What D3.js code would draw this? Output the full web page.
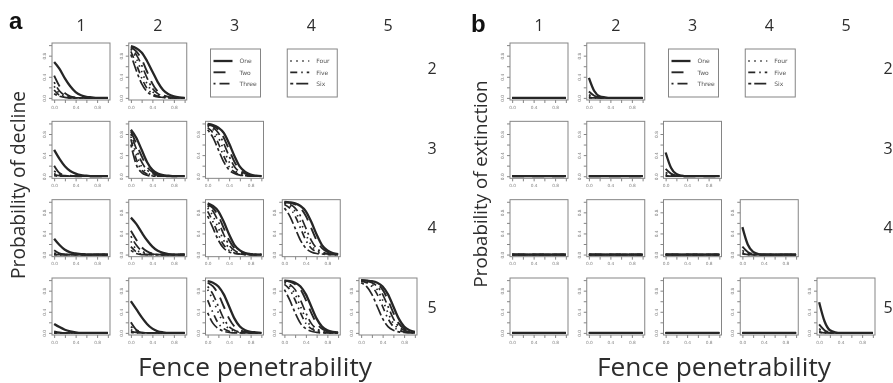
<!DOCTYPE html>
<html>
<head>
<meta charset="utf-8">
<script src="https://cdn.jsdelivr.net/npm/d3@7"></script>
<style>
  html, body { margin: 0; padding: 0; background: #fff; }
  svg { display: block; will-change: transform; }
</style>
</head>
<body>
<svg id="chart" width="893" height="383"></svg>
<script>
// x positions the curves were read at (fence penetrability)
const xGrid = [0, 0.1, 0.2, 0.3, 0.4, 0.5, 0.6, 0.7, 0.8, 0.9, 1.0];
const seriesNames = ['One', 'Two', 'Three', 'Four', 'Five', 'Six'];
const columnLabels = [1, 2, 3, 4, 5];
const rowLabels = [2, 3, 4, 5];
const tickValues = [0, 0.2, 0.4, 0.6, 0.8, 1.0];
const labelledTicks = [0, 0.4, 0.8];

// panel a : probability of decline, one array per series (One..Six)
const declineR2C1 = [
  [0.68, 0.55, 0.37, 0.22, 0.11, 0.05, 0.02, 0.01, 0, 0, 0],
  [0.42, 0.22, 0.09, 0.03, 0.01, 0, 0, 0, 0, 0, 0],
  [0.30, 0.13, 0.05, 0.02, 0, 0, 0, 0, 0, 0, 0],
  [0.22, 0.08, 0.03, 0.01, 0, 0, 0, 0, 0, 0, 0],
  [0.15, 0.05, 0.02, 0, 0, 0, 0, 0, 0, 0, 0],
  [0.08, 0.03, 0.01, 0, 0, 0, 0, 0, 0, 0, 0]
];
const declineR2C2 = [
  [0.98, 0.94, 0.86, 0.70, 0.50, 0.30, 0.15, 0.07, 0.03, 0.01, 0],
  [0.96, 0.88, 0.73, 0.50, 0.27, 0.12, 0.05, 0.02, 0.01, 0, 0],
  [0.94, 0.82, 0.62, 0.38, 0.18, 0.08, 0.03, 0.01, 0, 0, 0],
  [0.92, 0.75, 0.50, 0.27, 0.12, 0.05, 0.02, 0.01, 0, 0, 0],
  [0.88, 0.64, 0.38, 0.18, 0.08, 0.03, 0.01, 0, 0, 0, 0],
  [0.82, 0.52, 0.27, 0.12, 0.05, 0.02, 0.01, 0, 0, 0, 0]
];
const declineR3C1 = [
  [0.50, 0.33, 0.19, 0.10, 0.05, 0.02, 0.01, 0, 0, 0, 0],
  [0.20, 0.06, 0.02, 0.01, 0, 0, 0, 0, 0, 0, 0],
  [0.10, 0.03, 0.01, 0, 0, 0, 0, 0, 0, 0, 0],
  [0.05, 0.01, 0, 0, 0, 0, 0, 0, 0, 0, 0],
  [0.03, 0.01, 0, 0, 0, 0, 0, 0, 0, 0, 0],
  [0.01, 0, 0, 0, 0, 0, 0, 0, 0, 0, 0]
];
const declineR3C2 = [
  [0.88, 0.73, 0.50, 0.27, 0.12, 0.05, 0.02, 0.01, 0, 0, 0],
  [0.85, 0.62, 0.38, 0.18, 0.08, 0.03, 0.01, 0, 0, 0, 0],
  [0.80, 0.52, 0.27, 0.12, 0.05, 0.02, 0.01, 0, 0, 0, 0],
  [0.75, 0.42, 0.18, 0.07, 0.02, 0.01, 0, 0, 0, 0, 0],
  [0.70, 0.32, 0.12, 0.04, 0.01, 0, 0, 0, 0, 0, 0],
  [0.60, 0.22, 0.07, 0.02, 0, 0, 0, 0, 0, 0, 0]
];
const declineR3C3 = [
  [0.99, 0.97, 0.92, 0.82, 0.62, 0.38, 0.18, 0.08, 0.03, 0.01, 0],
  [0.98, 0.95, 0.88, 0.73, 0.50, 0.27, 0.12, 0.05, 0.02, 0.01, 0],
  [0.97, 0.92, 0.82, 0.62, 0.38, 0.18, 0.08, 0.03, 0.01, 0, 0],
  [0.95, 0.88, 0.73, 0.50, 0.27, 0.12, 0.05, 0.02, 0.01, 0, 0],
  [0.92, 0.82, 0.62, 0.38, 0.18, 0.08, 0.03, 0.01, 0, 0, 0],
  [0.88, 0.73, 0.50, 0.27, 0.12, 0.05, 0.02, 0.01, 0, 0, 0]
];
const declineR4C1 = [
  [0.30, 0.18, 0.09, 0.04, 0.02, 0.01, 0, 0, 0, 0, 0],
  [0.08, 0.02, 0, 0, 0, 0, 0, 0, 0, 0, 0],
  [0.03, 0.01, 0, 0, 0, 0, 0, 0, 0, 0, 0],
  [0.01, 0, 0, 0, 0, 0, 0, 0, 0, 0, 0],
  [0, 0, 0, 0, 0, 0, 0, 0, 0, 0, 0],
  [0, 0, 0, 0, 0, 0, 0, 0, 0, 0, 0]
];
const declineR4C2 = [
  [0.70, 0.58, 0.42, 0.27, 0.15, 0.07, 0.03, 0.01, 0, 0, 0],
  [0.45, 0.28, 0.14, 0.06, 0.02, 0.01, 0, 0, 0, 0, 0],
  [0.35, 0.18, 0.07, 0.02, 0.01, 0, 0, 0, 0, 0, 0],
  [0.25, 0.10, 0.03, 0.01, 0, 0, 0, 0, 0, 0, 0],
  [0.15, 0.05, 0.01, 0, 0, 0, 0, 0, 0, 0, 0],
  [0.08, 0.02, 0, 0, 0, 0, 0, 0, 0, 0, 0]
];
const declineR4C3 = [
  [0.97, 0.92, 0.82, 0.62, 0.38, 0.18, 0.08, 0.03, 0.01, 0, 0],
  [0.95, 0.88, 0.73, 0.50, 0.27, 0.12, 0.05, 0.02, 0.01, 0, 0],
  [0.92, 0.82, 0.62, 0.38, 0.18, 0.08, 0.03, 0.01, 0, 0, 0],
  [0.88, 0.73, 0.50, 0.27, 0.12, 0.05, 0.02, 0.01, 0, 0, 0],
  [0.82, 0.62, 0.38, 0.18, 0.08, 0.03, 0.01, 0, 0, 0, 0],
  [0.73, 0.50, 0.27, 0.12, 0.05, 0.02, 0.01, 0, 0, 0, 0]
];
const declineR4C4 = [
  [1.00, 0.99, 0.97, 0.92, 0.82, 0.62, 0.38, 0.18, 0.08, 0.03, 0.01],
  [0.99, 0.98, 0.95, 0.88, 0.73, 0.50, 0.27, 0.12, 0.05, 0.02, 0.01],
  [0.98, 0.95, 0.88, 0.73, 0.50, 0.27, 0.12, 0.05, 0.02, 0.01, 0],
  [0.97, 0.92, 0.82, 0.62, 0.38, 0.18, 0.08, 0.03, 0.01, 0, 0],
  [0.95, 0.88, 0.73, 0.50, 0.27, 0.12, 0.05, 0.02, 0.01, 0, 0],
  [0.88, 0.73, 0.50, 0.27, 0.12, 0.05, 0.02, 0.01, 0, 0, 0]
];
const declineR5C1 = [
  [0.17, 0.11, 0.06, 0.03, 0.01, 0, 0, 0, 0, 0, 0],
  [0.03, 0.01, 0, 0, 0, 0, 0, 0, 0, 0, 0],
  [0.01, 0, 0, 0, 0, 0, 0, 0, 0, 0, 0],
  [0, 0, 0, 0, 0, 0, 0, 0, 0, 0, 0],
  [0, 0, 0, 0, 0, 0, 0, 0, 0, 0, 0],
  [0, 0, 0, 0, 0, 0, 0, 0, 0, 0, 0]
];
const declineR5C2 = [
  [0.60, 0.45, 0.30, 0.17, 0.08, 0.03, 0.01, 0, 0, 0, 0],
  [0.20, 0.06, 0.02, 0, 0, 0, 0, 0, 0, 0, 0],
  [0.12, 0.04, 0.01, 0, 0, 0, 0, 0, 0, 0, 0],
  [0.06, 0.02, 0, 0, 0, 0, 0, 0, 0, 0, 0],
  [0.03, 0.01, 0, 0, 0, 0, 0, 0, 0, 0, 0],
  [0.01, 0, 0, 0, 0, 0, 0, 0, 0, 0, 0]
];
const declineR5C3 = [
  [0.98, 0.95, 0.88, 0.73, 0.50, 0.27, 0.12, 0.05, 0.02, 0.01, 0],
  [0.95, 0.88, 0.73, 0.50, 0.27, 0.12, 0.05, 0.02, 0.01, 0, 0],
  [0.88, 0.73, 0.50, 0.27, 0.12, 0.05, 0.02, 0.01, 0, 0, 0],
  [0.82, 0.62, 0.38, 0.18, 0.08, 0.03, 0.01, 0, 0, 0, 0],
  [0.62, 0.38, 0.18, 0.08, 0.03, 0.01, 0, 0, 0, 0, 0],
  [0.38, 0.18, 0.08, 0.03, 0.01, 0, 0, 0, 0, 0, 0]
];
const declineR5C4 = [
  [0.99, 0.98, 0.95, 0.88, 0.73, 0.50, 0.27, 0.12, 0.05, 0.02, 0.01],
  [0.99, 0.97, 0.92, 0.82, 0.62, 0.38, 0.18, 0.08, 0.03, 0.01, 0],
  [0.97, 0.92, 0.82, 0.62, 0.38, 0.18, 0.08, 0.03, 0.01, 0, 0],
  [0.95, 0.88, 0.73, 0.50, 0.27, 0.12, 0.05, 0.02, 0.01, 0, 0],
  [0.92, 0.82, 0.62, 0.38, 0.18, 0.08, 0.03, 0.01, 0, 0, 0],
  [0.82, 0.62, 0.38, 0.18, 0.08, 0.03, 0.01, 0, 0, 0, 0]
];
const declineR5C5 = [
  [1.00, 0.99, 0.98, 0.95, 0.88, 0.73, 0.50, 0.27, 0.12, 0.05, 0.02],
  [1.00, 0.99, 0.97, 0.92, 0.82, 0.62, 0.38, 0.18, 0.08, 0.03, 0.01],
  [0.99, 0.98, 0.95, 0.88, 0.73, 0.50, 0.27, 0.12, 0.05, 0.02, 0.01],
  [0.99, 0.97, 0.92, 0.82, 0.62, 0.38, 0.18, 0.08, 0.03, 0.01, 0],
  [0.98, 0.95, 0.88, 0.73, 0.50, 0.27, 0.12, 0.05, 0.02, 0.01, 0],
  [0.95, 0.88, 0.73, 0.50, 0.27, 0.12, 0.05, 0.02, 0.01, 0, 0]
];

// panel b : probability of extinction
const extinctionFlat = [
  [0, 0, 0, 0, 0, 0, 0, 0, 0, 0, 0],
  [0, 0, 0, 0, 0, 0, 0, 0, 0, 0, 0],
  [0, 0, 0, 0, 0, 0, 0, 0, 0, 0, 0],
  [0, 0, 0, 0, 0, 0, 0, 0, 0, 0, 0],
  [0, 0, 0, 0, 0, 0, 0, 0, 0, 0, 0],
  [0, 0, 0, 0, 0, 0, 0, 0, 0, 0, 0]
];
const extinctionR2C2 = [
  [0.38, 0.13, 0.03, 0.01, 0, 0, 0, 0, 0, 0, 0],
  [0.12, 0.04, 0.01, 0, 0, 0, 0, 0, 0, 0, 0],
  [0.06, 0.02, 0, 0, 0, 0, 0, 0, 0, 0, 0],
  [0.03, 0.01, 0, 0, 0, 0, 0, 0, 0, 0, 0],
  [0.01, 0, 0, 0, 0, 0, 0, 0, 0, 0, 0],
  [0, 0, 0, 0, 0, 0, 0, 0, 0, 0, 0]
];
const extinctionR3C3 = [
  [0.45, 0.16, 0.04, 0.01, 0, 0, 0, 0, 0, 0, 0],
  [0.14, 0.05, 0.01, 0, 0, 0, 0, 0, 0, 0, 0],
  [0.07, 0.02, 0, 0, 0, 0, 0, 0, 0, 0, 0],
  [0.03, 0.01, 0, 0, 0, 0, 0, 0, 0, 0, 0],
  [0.01, 0, 0, 0, 0, 0, 0, 0, 0, 0, 0],
  [0, 0, 0, 0, 0, 0, 0, 0, 0, 0, 0]
];
const extinctionR4C4 = [
  [0.52, 0.19, 0.05, 0.01, 0, 0, 0, 0, 0, 0, 0],
  [0.15, 0.05, 0.01, 0, 0, 0, 0, 0, 0, 0, 0],
  [0.08, 0.02, 0, 0, 0, 0, 0, 0, 0, 0, 0],
  [0.04, 0.01, 0, 0, 0, 0, 0, 0, 0, 0, 0],
  [0.02, 0, 0, 0, 0, 0, 0, 0, 0, 0, 0],
  [0.01, 0, 0, 0, 0, 0, 0, 0, 0, 0, 0]
];
const extinctionR5C5 = [
  [0.58, 0.22, 0.05, 0.01, 0, 0, 0, 0, 0, 0, 0],
  [0.16, 0.05, 0.01, 0, 0, 0, 0, 0, 0, 0, 0],
  [0.08, 0.02, 0, 0, 0, 0, 0, 0, 0, 0, 0],
  [0.04, 0.01, 0, 0, 0, 0, 0, 0, 0, 0, 0],
  [0.02, 0, 0, 0, 0, 0, 0, 0, 0, 0, 0],
  [0.01, 0, 0, 0, 0, 0, 0, 0, 0, 0, 0]
];

// which small plot goes where
const declineCells = [
  {row: 2, col: 1, lines: declineR2C1}, {row: 2, col: 2, lines: declineR2C2},
  {row: 3, col: 1, lines: declineR3C1}, {row: 3, col: 2, lines: declineR3C2}, {row: 3, col: 3, lines: declineR3C3},
  {row: 4, col: 1, lines: declineR4C1}, {row: 4, col: 2, lines: declineR4C2}, {row: 4, col: 3, lines: declineR4C3}, {row: 4, col: 4, lines: declineR4C4},
  {row: 5, col: 1, lines: declineR5C1}, {row: 5, col: 2, lines: declineR5C2}, {row: 5, col: 3, lines: declineR5C3}, {row: 5, col: 4, lines: declineR5C4}, {row: 5, col: 5, lines: declineR5C5}
];
const extinctionCells = [
  {row: 2, col: 1, lines: extinctionFlat}, {row: 2, col: 2, lines: extinctionR2C2},
  {row: 3, col: 1, lines: extinctionFlat}, {row: 3, col: 2, lines: extinctionFlat}, {row: 3, col: 3, lines: extinctionR3C3},
  {row: 4, col: 1, lines: extinctionFlat}, {row: 4, col: 2, lines: extinctionFlat}, {row: 4, col: 3, lines: extinctionFlat}, {row: 4, col: 4, lines: extinctionR4C4},
  {row: 5, col: 1, lines: extinctionFlat}, {row: 5, col: 2, lines: extinctionFlat}, {row: 5, col: 3, lines: extinctionFlat}, {row: 5, col: 4, lines: extinctionFlat}, {row: 5, col: 5, lines: extinctionR5C5}
];

const lineStyles = {
  One:   {width: 2.3, dash: null},
  Two:   {width: 1.9, dash: '12,8'},
  Three: {width: 1.7, dash: '2,4,10,4'},
  Four:  {width: 1.7, dash: '1.5,4.5'},
  Five:  {width: 1.7, dash: '7,4,1.5,4'},
  Six:   {width: 1.7, dash: '3,3,12,3'}
};

const svg = d3.select('#chart');
const boxW = 58, boxH = 57;
const ink = '#262626', frame = '#858585', textCol = '#2d2d2d';
const rowTop = d3.scaleLinear().domain([2, 5]).range([43, 278]);
const rowLabelY = d3.scaleLinear().domain([2, 5]).range([68, 307]);

const panels = [
  {letter: 'a', letterX: 9, letterY: 29, colRange: [52, 359], rowLabelX: 432,
   cells: declineCells, yTitle: 'Probability of decline', yTitleX: 17, yTitleY: 185, yTitleLen: 188,
   xTitleX: 255, xTitleLen: 234},
  {letter: 'b', letterX: 471, letterY: 32, colRange: [510, 817], rowLabelX: 888,
   cells: extinctionCells, yTitle: 'Probability of extinction', yTitleX: 479, yTitleY: 184, yTitleLen: 207,
   xTitleX: 714, xTitleLen: 234}
];

function fitText(sel, len) {
  const size = parseFloat(sel.attr('font-size'));
  const got = sel.node().getComputedTextLength();
  sel.attr('font-size', size * len / got);
}

function drawPlot(g, left, top, lines) {
  const x = d3.scaleLinear().domain([-0.04, 1.04]).range([left, left + boxW]);
  const y = d3.scaleLinear().domain([-0.04, 1.04]).range([top + boxH, top]);
  const fmt = d => labelledTicks.includes(d) ? d3.format('.1f')(d) : '';

  g.append('rect')
    .attr('x', left).attr('y', top)
    .attr('width', boxW).attr('height', boxH)
    .attr('fill', '#fff').attr('stroke', frame).attr('stroke-width', 1);

  const xAxis = g.append('g')
    .attr('transform', `translate(0,${top + boxH})`)
    .call(d3.axisBottom(x).tickValues(tickValues).tickSize(3).tickPadding(2.5).tickFormat(fmt));
  xAxis.select('.domain').remove();
  xAxis.attr('color', frame).attr('font-size', 4.3).attr('font-family', 'DejaVu Sans');

  const yAxis = g.append('g')
    .attr('transform', `translate(${left},0)`)
    .call(d3.axisLeft(y).tickValues(tickValues).tickSize(3).tickFormat(fmt));
  yAxis.select('.domain').remove();
  yAxis.attr('color', frame).attr('font-size', 4.3).attr('font-family', 'DejaVu Sans');
  yAxis.selectAll('text')
    .attr('x', 0).attr('y', -6).attr('dy', 0)
    .attr('text-anchor', 'middle')
    .attr('transform', 'rotate(-90)');

  const line = d3.line()
    .x((d, i) => x(xGrid[i]))
    .y(d => y(d))
    .curve(d3.curveMonotoneX);

  // thinner series first, the thick "One" curve on top
  d3.range(lines.length).reverse().forEach(i => {
    const st = lineStyles[seriesNames[i]];
    g.append('path')
      .datum(lines[i])
      .attr('d', line)
      .attr('fill', 'none')
      .attr('stroke', ink)
      .attr('stroke-width', st.width)
      .attr('stroke-dasharray', st.dash);
  });
}

function drawLegend(g, left, top, names) {
  g.append('rect')
    .attr('x', left).attr('y', top).attr('width', 50).attr('height', 48)
    .attr('fill', '#fff').attr('stroke', frame).attr('stroke-width', 1);
  names.forEach((name, i) => {
    const st = lineStyles[name];
    const yy = top + 12 + i * 11.3;
    g.append('line')
      .attr('x1', left + 3).attr('x2', left + 22)
      .attr('y1', yy).attr('y2', yy)
      .attr('stroke', ink).attr('stroke-width', st.width)
      .attr('stroke-dasharray', st.dash);
    g.append('text')
      .attr('x', left + 29).attr('y', yy + 2.2)
      .attr('font-family', 'DejaVu Sans').attr('font-size', 6)
      .attr('fill', '#555')
      .text(name);
  });
}

panels.forEach(p => {
  const g = svg.append('g');
  const colLeft = d3.scaleLinear().domain([1, 5]).range(p.colRange);

  g.append('text')
    .attr('x', p.letterX).attr('y', p.letterY)
    .attr('font-family', 'Liberation Sans').attr('font-weight', 'bold')
    .attr('font-size', 24).attr('fill', '#111')
    .text(p.letter);

  g.selectAll('.colLabel')
    .data(columnLabels)
    .join('text')
    .attr('x', d => colLeft(d) + boxW / 2).attr('y', 31)
    .attr('text-anchor', 'middle')
    .attr('font-family', 'Open Sans').attr('font-size', 16)
    .attr('fill', textCol)
    .text(d => d);

  g.selectAll('.rowLabel')
    .data(rowLabels)
    .join('text')
    .attr('x', p.rowLabelX).attr('y', d => rowLabelY(d) + 6)
    .attr('text-anchor', 'middle')
    .attr('font-family', 'Open Sans').attr('font-size', 16)
    .attr('fill', textCol)
    .text(d => d);

  p.cells.forEach(c => drawPlot(g, colLeft(c.col), rowTop(c.row), c.lines));

  drawLegend(g, colLeft(3) + 5, 49, seriesNames.slice(0, 3));
  drawLegend(g, colLeft(4) + 5, 49, seriesNames.slice(3));

  const yt = g.append('text')
    .attr('transform', `translate(${p.yTitleX},${p.yTitleY}) rotate(-90)`)
    .attr('text-anchor', 'middle').attr('dominant-baseline', 'central')
    .attr('font-family', 'Open Sans').attr('font-size', 17)
    .attr('fill', textCol)
    .text(p.yTitle);
  fitText(yt, p.yTitleLen);

  const xt = g.append('text')
    .attr('x', p.xTitleX).attr('y', 376)
    .attr('text-anchor', 'middle')
    .attr('font-family', 'Open Sans').attr('font-size', 22)
    .attr('fill', textCol)
    .text('Fence penetrability');
  fitText(xt, p.xTitleLen);
});
</script>
</body>
</html>
